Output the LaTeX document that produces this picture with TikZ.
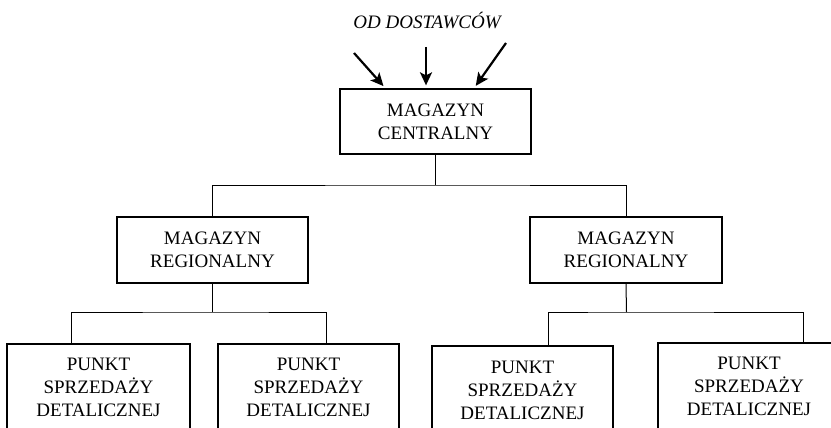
\documentclass[tikz,border=0pt]{standalone}
\usepackage{fontspec}
\setmainfont{Liberation Serif}
\usetikzlibrary{arrows.meta}
\begin{document}
\begin{tikzpicture}[x=1pt,y=-1pt,
  box/.style={draw,line width=1.3pt,inner sep=0pt,align=center,
    font=\fontsize{19}{23}\selectfont},
  conn/.style={line width=1pt},
  arr/.style={line width=2.2pt,-{Stealth[length=13pt,width=12pt,inset=3pt]},shorten >=3pt}]
\useasboundingbox (0,0) rectangle (831,428);
\clip (0,0) rectangle (831,428);
\node[font=\fontsize{19}{23}\selectfont\itshape] (src) at (427,20) {OD DOSTAWCÓW};
\node[box,minimum width=191pt,minimum height=65pt] (central) at (435.5,121.5) {MAGAZYN\\CENTRALNY};
\node[box,minimum width=191pt,minimum height=66pt] (regL) at (212.5,250) {MAGAZYN\\REGIONALNY};
\node[box,minimum width=192pt,minimum height=66pt] (regR) at (626,250) {MAGAZYN\\REGIONALNY};
\node[box,minimum width=183pt,minimum height=86pt] (leaf1) at (98.5,387) {PUNKT\\SPRZEDAŻY\\DETALICZNEJ};
\node[box,minimum width=181pt,minimum height=86pt] (leaf2) at (308.5,387) {PUNKT\\SPRZEDAŻY\\DETALICZNEJ};
\node[box,minimum width=181pt,minimum height=88pt] (leaf3) at (522.5,390) {PUNKT\\SPRZEDAŻY\\DETALICZNEJ};
\node[box,minimum width=182pt,minimum height=86pt] (leaf4) at (749,386) {PUNKT\\SPRZEDAŻY\\DETALICZNEJ};
% arrows from suppliers
\coordinate (s1) at (354,53);
\coordinate (s2) at (426,47);
\coordinate (s3) at (506,43);
\draw[arr] (s1) -- (385.5,0 |- central.north);
\draw[arr] (s2) -- (426,0 |- central.north);
\draw[arr] (s3) -- (474,0 |- central.north);
% connectors
\coordinate (j0) at (435.5,185);
\coordinate (jL) at (212.5,312);
\coordinate (jR) at (626.5,312);
\draw[conn] (central.south) -- (j0);
\draw[conn] (regL.north) |- (j0) -| (regR.north);
\draw[conn] (regL.south) -- (jL);
\draw[conn] (71,0 |- leaf1.north) |- (jL) -| (326,0 |- leaf2.north);
\draw[conn] (regR.south) -- (jR);
\draw[conn] (548,0 |- leaf3.north) |- (jR) -| (803,0 |- leaf4.north);
\end{tikzpicture}
\end{document}
